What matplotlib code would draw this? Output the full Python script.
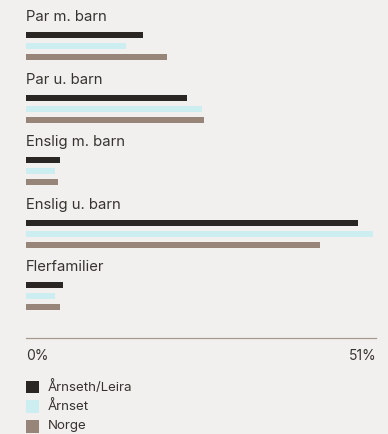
import matplotlib
matplotlib.use("Agg")
import matplotlib.pyplot as plt
from matplotlib.patches import Rectangle

plt.rcParams['font.family'] = ['Inter', 'DejaVu Sans']

categories = ["Par m. barn", "Par u. barn", "Enslig m. barn", "Enslig u. barn", "Flerfamilier"]
series = ["Årnseth/Leira", "Årnset", "Norge"]
arnseth_leira = [17.1, 23.5, 5.0, 48.4, 5.4]
arnset = [14.5, 25.6, 4.2, 50.6, 4.2]
norge = [20.6, 26.0, 4.6, 42.8, 5.0]
xmax = 51
tick_labels = ["0%", "51%"]

colors = ["#2a2623", "#cdeef1", "#978579"]
bg = "#f2f0ee"
text_c = "#363330"

W, H = 388, 434
fig = plt.figure(figsize=(W / 100, H / 100), dpi=100, facecolor=bg)
ax = fig.add_axes([0, 0, 1, 1])
ax.set_facecolor(bg)
ax.axis("off")

# map pixels: 0 value at x=26, xmax at x=376
x0, x1 = 26, 376
scale = xmax / (x1 - x0)
ax.set_xlim(-x0 * scale, (W - x0) * scale)
ax.set_ylim(H, 0)

group_step = 62.5
for i, cat in enumerate(categories):
    top = 17 + i * group_step
    ax.text(0, top, cat, fontsize=10.7, color=text_c, va="center", ha="left")
    vals = [arnseth_leira[i], arnset[i], norge[i]]
    for j, v in enumerate(vals):
        ax.barh(top + 18.3 + j * 11, v, height=6.3, color=colors[j], left=0)

# axis line
ax.plot([0, xmax], [338, 338], color="#a59a90", lw=0.9)
ax.text(0, 356.5, tick_labels[0], fontsize=10, color=text_c, va="center", ha="left")
ax.text(xmax, 356.5, tick_labels[1], fontsize=10, color=text_c, va="center", ha="right")

# legend
for j, name in enumerate(series):
    yy = 387 + j * 19.7
    ax.add_patch(Rectangle((0, yy - 6.3), 12.5 * scale, 12.6, color=colors[j], lw=0))
    ax.text(22 * scale, yy, name, fontsize=9.6, color=text_c, va="center", ha="left")

fig.savefig("out.png", dpi=100, facecolor=bg)
